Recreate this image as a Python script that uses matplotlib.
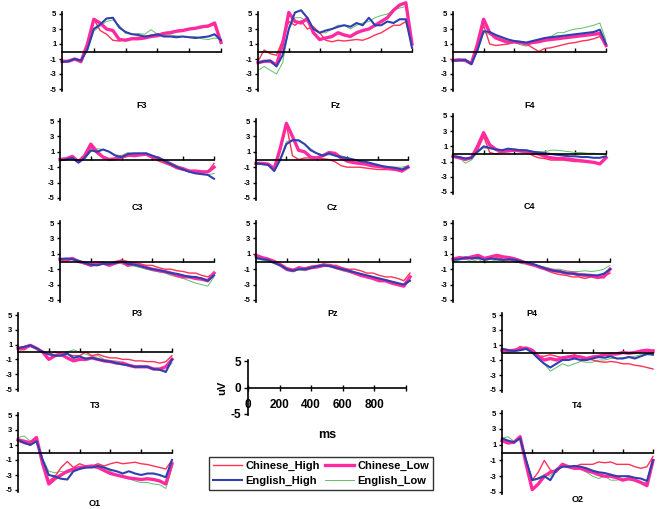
import matplotlib
matplotlib.use("Agg")
import matplotlib.pyplot as plt
from matplotlib.lines import Line2D

plt.rcParams['font.family'] = ['Liberation Sans', 'DejaVu Sans']
plt.rcParams['font.weight'] = 'bold'

# time points in ms
TIME = [0, 40, 80, 120, 160, 200, 240, 280, 320, 360, 400, 440, 480,
        520, 560, 600, 640, 680, 720, 760, 800, 840, 880, 920, 960, 1000]

CONDITIONS = ['Chinese_High', 'Chinese_Low', 'English_High', 'English_Low']

# amplitudes in uV (ch, cl, eh, el)
f3_ch = [-1.3, -1.2, -1.1, -1.5, 0.5, 4.3, 2.8, 2.3, 1.5, 1.4, 1.6, 1.8, 1.9, 2.0, 2.2, 2.3, 2.5, 2.6, 2.8, 2.9, 3.0, 3.1, 3.2, 3.3, 3.6, 1.5]
f3_cl = [-1.3, -1.3, -1.0, -1.3, 1.0, 4.3, 3.8, 3.0, 2.8, 1.6, 1.5, 1.7, 1.7, 1.8, 2.0, 2.1, 2.4, 2.5, 2.7, 2.8, 3.0, 3.1, 3.3, 3.4, 3.8, 1.2]
f3_eh = [-1.4, -1.3, -1.0, -1.2, 0.3, 3.0, 3.6, 4.4, 4.5, 3.2, 2.6, 2.3, 2.2, 2.0, 2.1, 2.3, 2.0, 2.0, 1.9, 2.0, 1.9, 1.8, 1.9, 2.0, 2.3, 1.5]
f3_el = [-1.4, -1.2, -1.0, -1.3, 0.2, 2.7, 3.4, 4.0, 4.2, 3.5, 2.4, 2.3, 2.4, 2.3, 2.9, 2.3, 2.1, 2.2, 2.1, 2.0, 1.9, 2.0, 1.7, 1.6, 1.8, 1.6]

fz_ch = [-1.3, 0.2, -0.3, -0.5, 1.5, 4.0, 3.5, 4.1, 3.0, 3.3, 2.5, 1.5, 1.3, 1.5, 1.4, 1.5, 1.6, 1.5, 1.8, 2.2, 2.5, 3.0, 3.5, 3.5, 4.0, 1.0]
fz_cl = [-1.5, -1.3, -1.3, -1.8, 1.0, 5.2, 4.0, 3.8, 4.4, 2.5, 1.6, 1.8, 2.0, 2.5, 2.2, 2.0, 2.5, 2.8, 3.0, 3.5, 4.0, 4.5, 5.5, 6.2, 6.5, 1.0]
fz_eh = [-1.5, -1.3, -1.2, -2.0, -0.5, 3.0, 5.2, 5.5, 4.5, 3.0, 2.5, 2.8, 3.0, 3.3, 3.5, 3.3, 3.8, 3.5, 4.5, 3.5, 3.5, 4.0, 3.8, 4.3, 4.3, 0.5]
fz_el = [-2.5, -2.0, -2.5, -3.0, -1.5, 3.0, 4.5, 4.5, 4.0, 3.0, 2.5, 2.5, 3.0, 3.5, 3.5, 3.0, 3.5, 3.8, 4.0, 4.5, 4.8, 5.0, 5.5, 5.8, 6.0, 1.5]

f4_ch = [-1.2, -1.1, -1.2, -1.6, 0.5, 3.5, 1.0, 0.8, 0.9, 1.0, 1.2, 1.1, 1.0, 0.5, 0.0, 0.4, 0.5, 0.7, 0.9, 1.1, 1.2, 1.4, 1.5, 1.7, 2.0, 0.8]
f4_cl = [-1.2, -1.1, -1.2, -1.6, 1.0, 4.3, 2.5, 1.8, 1.5, 1.2, 1.3, 1.2, 1.0, 1.2, 1.3, 1.5, 1.6, 1.7, 1.8, 1.9, 2.0, 2.1, 2.2, 2.3, 2.4, 0.8]
f4_eh = [-1.2, -1.2, -1.1, -1.7, 0.2, 2.7, 2.6, 2.2, 1.9, 1.6, 1.4, 1.3, 1.2, 1.4, 1.6, 1.8, 1.9, 2.0, 2.1, 2.2, 2.3, 2.4, 2.5, 2.6, 2.9, 1.0]
f4_el = [-1.3, -1.1, -1.0, -1.6, 0.0, 2.5, 2.3, 2.0, 1.8, 1.5, 1.2, 0.9, 0.7, 1.2, 1.5, 1.8, 2.0, 2.5, 2.5, 2.8, 3.0, 3.1, 3.3, 3.5, 3.8, 1.5]

c3_ch = [0.0, 0.0, 0.1, -0.2, 0.3, 1.6, 0.8, 0.2, 0.0, 0.1, 0.2, 0.4, 0.6, 0.7, 0.6, 0.2, -0.2, -0.5, -0.8, -1.2, -1.4, -1.5, -1.5, -1.6, -1.6, -0.5]
c3_cl = [0.0, 0.1, 0.4, -0.3, 0.5, 2.0, 1.0, 0.3, 0.0, 0.1, 0.3, 0.6, 0.5, 0.6, 0.7, 0.3, 0.2, -0.3, -0.6, -1.0, -1.2, -1.5, -1.5, -1.6, -1.6, -1.0]
c3_eh = [-0.1, 0.0, 0.2, -0.4, 0.2, 1.2, 1.0, 1.3, 1.0, 0.5, 0.3, 0.7, 0.8, 0.8, 0.8, 0.5, 0.2, -0.2, -0.6, -1.0, -1.3, -1.6, -1.8, -1.9, -2.0, -2.5]
c3_el = [0.0, 0.1, 0.2, -0.3, 0.1, 1.0, 1.4, 1.3, 1.0, 0.6, 0.5, 0.9, 0.8, 0.8, 0.7, 0.5, 0.2, 0.0, -0.4, -0.8, -1.1, -1.5, -1.7, -1.8, -2.0, -1.8]

cz_ch = [-0.5, -0.5, -0.6, -1.2, 1.2, 4.5, 0.5, 0.0, 0.2, 0.2, 0.2, 0.1, 0.0, -0.3, -0.8, -1.0, -1.0, -1.0, -1.1, -1.2, -1.3, -1.3, -1.3, -1.2, -1.3, -0.8]
cz_cl = [-0.5, -0.5, -0.6, -1.2, 1.5, 4.7, 3.0, 1.2, 1.0, 0.3, 0.2, 0.5, 0.9, 0.8, 0.2, -0.2, -0.4, -0.5, -0.6, -0.8, -0.9, -1.0, -1.2, -1.3, -1.5, -1.0]
cz_eh = [-0.5, -0.6, -0.7, -1.5, 0.0, 2.0, 2.5, 2.5, 2.0, 1.2, 0.8, 0.5, 0.8, 0.5, 0.3, 0.2, 0.0, -0.2, -0.3, -0.5, -0.7, -0.9, -1.0, -1.1, -1.3, -1.0]
cz_el = [-0.4, -0.5, -0.6, -1.3, 0.2, 2.3, 2.6, 2.4, 2.0, 1.4, 0.8, 0.6, 0.6, 0.6, 0.5, 0.2, 0.0, -0.2, -0.3, -0.5, -0.8, -0.9, -1.0, -1.0, -1.0, -0.8]

c4_ch = [-0.3, -0.5, -0.8, -0.5, 0.5, 2.3, 0.2, 0.0, 0.3, 0.4, 0.5, 0.4, 0.3, -0.2, -0.5, -0.6, -0.8, -0.8, -0.8, -0.9, -1.0, -1.0, -1.0, -1.1, -1.2, -0.5]
c4_cl = [-0.3, -0.5, -0.7, -0.5, 1.0, 2.8, 1.2, 0.6, 0.3, 0.4, 0.5, 0.4, 0.3, 0.2, 0.0, -0.3, -0.5, -0.6, -0.6, -0.7, -0.8, -0.9, -1.0, -1.1, -1.3, -0.5]
c4_eh = [-0.3, -0.4, -0.6, -0.5, 0.3, 1.0, 0.8, 0.6, 0.5, 0.7, 0.6, 0.5, 0.5, 0.3, 0.2, 0.1, 0.0, -0.1, -0.2, -0.3, -0.3, -0.4, -0.4, -0.5, -0.5, -0.3]
c4_el = [-0.2, -0.4, -1.2, -0.8, 0.2, 0.8, 0.7, 0.6, 0.5, 0.4, 0.4, 0.5, 0.4, 0.3, 0.3, 0.3, 0.5, 0.5, 0.4, 0.3, 0.2, 0.2, 0.1, 0.1, 0.0, 0.0]

p3_ch = [0.2, 0.3, 0.3, 0.0, -0.3, -0.2, -0.3, -0.2, -0.3, 0.0, 0.2, 0.0, -0.2, -0.3, -0.5, -0.5, -0.8, -1.0, -1.0, -1.2, -1.3, -1.5, -1.5, -1.8, -2.0, -1.5]
p3_cl = [0.3, 0.2, 0.4, 0.0, -0.2, -0.5, -0.3, -0.2, -0.5, -0.2, 0.0, -0.5, -0.3, -0.5, -0.8, -1.0, -1.2, -1.3, -1.5, -1.8, -2.0, -2.0, -2.2, -2.3, -2.5, -1.5]
p3_eh = [0.3, 0.4, 0.3, 0.1, -0.2, -0.4, -0.5, -0.3, -0.3, -0.2, 0.0, -0.3, -0.4, -0.6, -0.8, -1.0, -1.1, -1.3, -1.5, -1.6, -1.8, -2.0, -2.0, -2.2, -2.5, -1.8]
p3_el = [0.2, 0.2, 0.3, 0.0, -0.3, -0.5, -0.3, -0.3, -0.2, 0.0, -0.3, -0.5, -0.6, -0.8, -1.0, -1.2, -1.3, -1.5, -1.8, -2.0, -2.2, -2.5, -2.8, -3.0, -3.2, -2.0]

pz_ch = [0.5, 0.3, 0.2, 0.0, -0.3, -0.8, -1.0, -0.8, -0.8, -0.6, -0.5, -0.3, -0.5, -0.5, -0.8, -1.0, -1.0, -1.2, -1.5, -1.5, -1.8, -2.0, -2.0, -2.2, -2.5, -1.5]
pz_cl = [0.8, 0.5, 0.3, 0.0, -0.5, -1.0, -1.2, -0.8, -1.0, -0.8, -0.7, -0.5, -0.5, -0.8, -1.0, -1.2, -1.5, -1.8, -2.0, -2.2, -2.5, -2.5, -2.8, -3.0, -3.2, -2.0]
pz_eh = [0.5, 0.3, 0.2, -0.2, -0.5, -1.0, -1.2, -1.0, -1.0, -0.8, -0.6, -0.5, -0.6, -0.8, -1.0, -1.2, -1.4, -1.6, -1.8, -2.0, -2.2, -2.4, -2.6, -2.8, -3.0, -2.5]
pz_el = [0.3, 0.2, 0.0, -0.3, -0.6, -1.2, -1.3, -1.1, -1.2, -0.9, -0.8, -0.6, -0.7, -0.9, -1.2, -1.4, -1.6, -1.7, -1.9, -2.1, -2.3, -2.5, -2.7, -2.8, -3.0, -2.0]

p4_ch = [0.3, 0.4, 0.6, 0.3, 0.5, 0.2, 0.3, 0.5, 0.3, 0.2, 0.0, -0.2, -0.3, -0.5, -0.8, -1.2, -1.5, -1.7, -1.8, -2.0, -2.0, -2.2, -2.0, -2.2, -2.0, -1.5]
p4_cl = [0.3, 0.5, 0.4, 0.6, 0.8, 0.4, 0.6, 0.8, 0.6, 0.5, 0.3, 0.0, -0.3, -0.5, -0.8, -1.0, -1.2, -1.3, -1.5, -1.5, -1.7, -1.8, -1.8, -2.0, -2.0, -1.0]
p4_eh = [0.2, 0.3, 0.5, 0.4, 0.5, 0.2, 0.4, 0.3, 0.2, 0.3, 0.2, 0.0, -0.2, -0.4, -0.7, -1.0, -1.2, -1.3, -1.5, -1.6, -1.7, -1.7, -1.8, -1.8, -1.6, -1.0]
p4_el = [0.0, 0.2, 0.3, 0.0, 0.3, -0.2, 0.0, 0.2, 0.0, 0.2, 0.0, -0.3, -0.3, -0.5, -0.6, -0.8, -1.0, -1.0, -1.2, -1.3, -1.3, -1.2, -1.3, -1.2, -1.0, -0.5]

t3_ch = [0.3, 0.3, 0.8, 0.4, 0.0, -0.3, 0.0, -0.2, -0.3, -0.5, -0.5, 0.0, -0.5, -0.3, -0.6, -0.8, -0.8, -1.0, -1.0, -1.2, -1.2, -1.3, -1.3, -1.5, -1.3, -0.5]
t3_cl = [0.5, 0.6, 0.9, 0.5, 0.0, -1.0, -0.5, -0.3, -0.8, -1.2, -1.0, -1.0, -0.8, -1.0, -1.2, -1.3, -1.5, -1.5, -1.8, -2.0, -2.0, -2.0, -2.3, -2.3, -2.0, -1.0]
t3_eh = [0.5, 0.7, 0.9, 0.5, 0.0, -0.3, -0.5, -0.5, -0.2, -0.8, -0.6, -0.9, -0.8, -1.0, -1.2, -1.3, -1.5, -1.7, -1.8, -2.0, -2.0, -2.0, -2.3, -2.4, -2.7, -1.0]
t3_el = [0.3, 0.5, 0.8, 0.4, 0.0, -0.4, -0.3, -0.3, 0.0, 0.3, 0.0, -0.3, -0.6, -0.5, -1.0, -1.2, -1.2, -1.5, -1.8, -2.0, -1.8, -2.0, -2.2, -2.3, -2.5, -1.5]

t4_ch = [0.5, 0.4, 0.2, 0.8, 0.5, 0.2, -0.5, -0.5, -0.3, -0.5, -0.7, -0.5, -0.3, -0.6, -0.8, -1.0, -1.2, -1.3, -1.2, -1.3, -1.5, -1.5, -1.7, -1.8, -2.0, -2.2]
t4_cl = [0.3, 0.2, 0.3, 0.5, 0.6, 0.3, -0.5, -1.0, -0.8, -1.0, -0.7, -0.6, -0.5, -0.6, -0.8, -0.6, -0.5, -0.3, -0.2, -0.2, 0.0, -0.1, 0.0, 0.2, 0.3, 0.2]
t4_eh = [0.5, 0.3, 0.2, 0.3, 0.5, 0.0, -0.8, -1.5, -2.0, -1.5, -1.0, -1.0, -0.8, -1.0, -1.0, -0.8, -0.6, -0.7, -0.5, -0.8, -0.8, -0.6, -0.8, -0.5, -0.2, -0.3]
t4_el = [0.3, 0.2, 0.2, 0.3, 0.4, 0.0, -0.8, -1.5, -2.5, -2.0, -1.5, -1.8, -1.5, -1.2, -1.3, -1.3, -1.0, -1.0, -0.8, -0.8, -0.7, -0.6, -0.5, -0.3, -0.3, -0.2]

o1_ch = [1.5, 1.2, 1.0, 1.8, -1.0, -3.8, -3.2, -2.0, -1.2, -2.0, -1.5, -1.8, -1.8, -1.5, -1.8, -1.5, -1.3, -1.5, -1.4, -1.3, -1.5, -1.6, -1.8, -2.0, -2.2, -1.0]
o1_cl = [1.7, 1.5, 1.3, 2.0, -1.5, -4.2, -3.5, -3.0, -2.5, -2.2, -2.0, -1.9, -1.8, -2.0, -2.4, -2.8, -3.0, -3.2, -3.4, -3.5, -3.6, -3.5, -3.6, -3.8, -4.2, -1.5]
o1_eh = [1.7, 1.3, 1.0, 1.5, -1.0, -3.0, -3.2, -3.5, -3.6, -2.5, -2.2, -2.0, -2.0, -1.8, -2.0, -2.3, -2.5, -2.8, -2.5, -2.8, -3.0, -2.8, -2.8, -3.0, -3.3, -1.0]
o1_el = [2.0, 2.2, 1.5, 1.8, -0.8, -2.5, -2.7, -2.5, -2.7, -2.5, -2.2, -2.0, -1.8, -1.6, -2.0, -2.5, -3.0, -3.2, -3.5, -3.8, -4.0, -4.0, -4.2, -4.3, -4.8, -2.0]

o2_ch = [1.5, 1.2, 1.2, 2.0, -1.0, -3.5, -2.5, -1.0, -2.2, -2.5, -1.5, -1.8, -1.8, -1.5, -1.5, -1.5, -1.2, -1.3, -1.2, -1.5, -1.5, -1.5, -1.8, -2.0, -1.8, -0.5]
o2_cl = [1.5, 1.2, 1.3, 2.0, -1.5, -4.7, -4.0, -3.0, -2.5, -2.3, -1.5, -1.8, -2.0, -2.0, -2.3, -2.5, -2.8, -3.0, -3.0, -3.2, -3.5, -3.3, -3.5, -3.8, -4.2, -1.0]
o2_eh = [1.8, 1.5, 1.3, 1.8, -1.0, -3.5, -3.3, -3.0, -3.5, -2.2, -1.8, -1.8, -1.7, -1.8, -2.0, -2.3, -2.5, -2.6, -2.8, -3.0, -3.0, -3.0, -3.2, -3.3, -3.6, -1.0]
o2_el = [1.8, 2.0, 1.4, 1.8, -0.8, -3.5, -3.2, -2.8, -3.0, -2.0, -1.8, -1.7, -1.8, -2.0, -2.5, -3.0, -3.3, -3.0, -3.5, -3.5, -3.3, -3.5, -3.5, -3.8, -3.8, -1.5]

ELECTRODES = {
    'F3': [f3_ch, f3_cl, f3_eh, f3_el],
    'Fz': [fz_ch, fz_cl, fz_eh, fz_el],
    'F4': [f4_ch, f4_cl, f4_eh, f4_el],
    'C3': [c3_ch, c3_cl, c3_eh, c3_el],
    'Cz': [cz_ch, cz_cl, cz_eh, cz_el],
    'C4': [c4_ch, c4_cl, c4_eh, c4_el],
    'P3': [p3_ch, p3_cl, p3_eh, p3_el],
    'Pz': [pz_ch, pz_cl, pz_eh, pz_el],
    'P4': [p4_ch, p4_cl, p4_eh, p4_el],
    'T3': [t3_ch, t3_cl, t3_eh, t3_el],
    'T4': [t4_ch, t4_cl, t4_eh, t4_el],
    'O1': [o1_ch, o1_cl, o1_eh, o1_el],
    'O2': [o2_ch, o2_cl, o2_eh, o2_el],
}

# panel geometry in pixels: x at 0 ms, x at 1000 ms, y at +5 uV, y at -5 uV, label y
PANELS = {
    'F3': (62, 221, 14, 89, 106),
    'Fz': (258, 412, 14, 89, 106),
    'F4': (453, 606, 14, 89, 106),
    'C3': (60, 214, 121, 198, 208),
    'Cz': (256, 408, 121, 198, 208),
    'C4': (453, 606, 116, 192, 207),
    'P3': (60, 214, 223, 300, 314),
    'Pz': (256, 410, 223, 300, 314),
    'P4': (453, 610, 223, 300, 314),
    'T3': (18, 172, 315, 389, 405),
    'T4': (502, 653, 315, 390, 405),
    'O1': (18, 172, 415, 490, 504),
    'O2': (502, 653, 413, 492, 500),
}

COLORS = ['#ff3355', '#ff2aa0', '#2f3fb0', '#5fc06a']
WIDTHS = [1.0, 2.4, 1.5, 0.7]
ORDER = [3, 0, 1, 2]

W, H = 658, 509
fig = plt.figure(figsize=(W / 100, H / 100), dpi=100)


def add_axes_px(x0, x1, y5, ym5, pad=0.3):
    ppu = (ym5 - y5) / 10.0
    top = y5 - pad * ppu
    bot = ym5 + pad * ppu
    ax = fig.add_axes([x0 / W, 1 - bot / H, (x1 - x0) / W, (bot - top) / H])
    ax.set_ylim(-5 - pad, 5 + pad)
    ax.set_xlim(0, 1000)
    return ax


for name, series in ELECTRODES.items():
    x0, x1, y5, ym5, ly = PANELS[name]
    ax = add_axes_px(x0, x1, y5, ym5)
    for i in ORDER:
        ax.plot(TIME, series[i], color=COLORS[i], lw=WIDTHS[i], clip_on=False,
                solid_joinstyle='round')
    for s in ['top', 'right']:
        ax.spines[s].set_visible(False)
    ax.spines['bottom'].set_position(('data', 0))
    ax.spines['bottom'].set_linewidth(1.2)
    ax.spines['left'].set_linewidth(1.2)
    ax.set_xticks([200, 400, 600, 800, 1000])
    ax.set_xticklabels([])
    ax.tick_params(axis='x', direction='in', length=3, width=1)
    ax.set_yticks([5, 3, 1, -1, -3, -5])
    ax.set_yticklabels(['5', '3', '1', '-1', '-3', '-5'], fontsize=5.5,
                       fontweight='bold')
    ax.tick_params(axis='y', direction='out', length=2.5, width=1, pad=1.5)
    ax.patch.set_visible(False)
    fig.text((x0 + x1) / 2 / W, 1 - ly / H, name, ha='center', va='center',
             fontsize=6.5, fontweight='bold')

# scale axes
sax = add_axes_px(248, 406, 361, 414, pad=0.2)
for s in ['top', 'right']:
    sax.spines[s].set_visible(False)
sax.spines['bottom'].set_position(('data', 0))
sax.spines['bottom'].set_linewidth(1.2)
sax.spines['left'].set_linewidth(1.2)
sax.set_xticks([0, 200, 400, 600, 800, 1000])
sax.set_xticklabels(['0', '200', '400', '600', '800', ''], fontsize=8.5,
                    fontweight='bold')
sax.tick_params(axis='x', direction='inout', length=5, width=1, pad=6)
sax.set_yticks([5, 0, -5])
sax.set_yticklabels(['5', '0', '-5'], fontsize=8.5, fontweight='bold')
sax.tick_params(axis='y', direction='out', length=3, width=1, pad=2)
sax.patch.set_visible(False)
fig.text(222 / W, 1 - 388 / H, 'uV', rotation=90, ha='center', va='center',
         fontsize=8, fontweight='bold')
fig.text(327 / W, 1 - 435 / H, 'ms', ha='center', va='center',
         fontsize=9, fontweight='bold')

# legend
handles = [Line2D([0], [0], color=COLORS[i], lw=WIDTHS[i]) for i in range(4)]
leg = fig.legend([handles[0], handles[2], handles[1], handles[3]],
                 [CONDITIONS[0], CONDITIONS[2], CONDITIONS[1], CONDITIONS[3]],
                 loc='upper left', bbox_to_anchor=(209 / W, 1 - 457 / H),
                 ncol=2, frameon=True, fancybox=False, edgecolor='black',
                 prop={'weight': 'bold', 'size': 8}, handlelength=2.6,
                 handletextpad=0.3, columnspacing=0.5, borderpad=0.35,
                 labelspacing=0.45, borderaxespad=0)
leg.get_frame().set_linewidth(1.0)

fig.savefig('out.png', dpi=100)
